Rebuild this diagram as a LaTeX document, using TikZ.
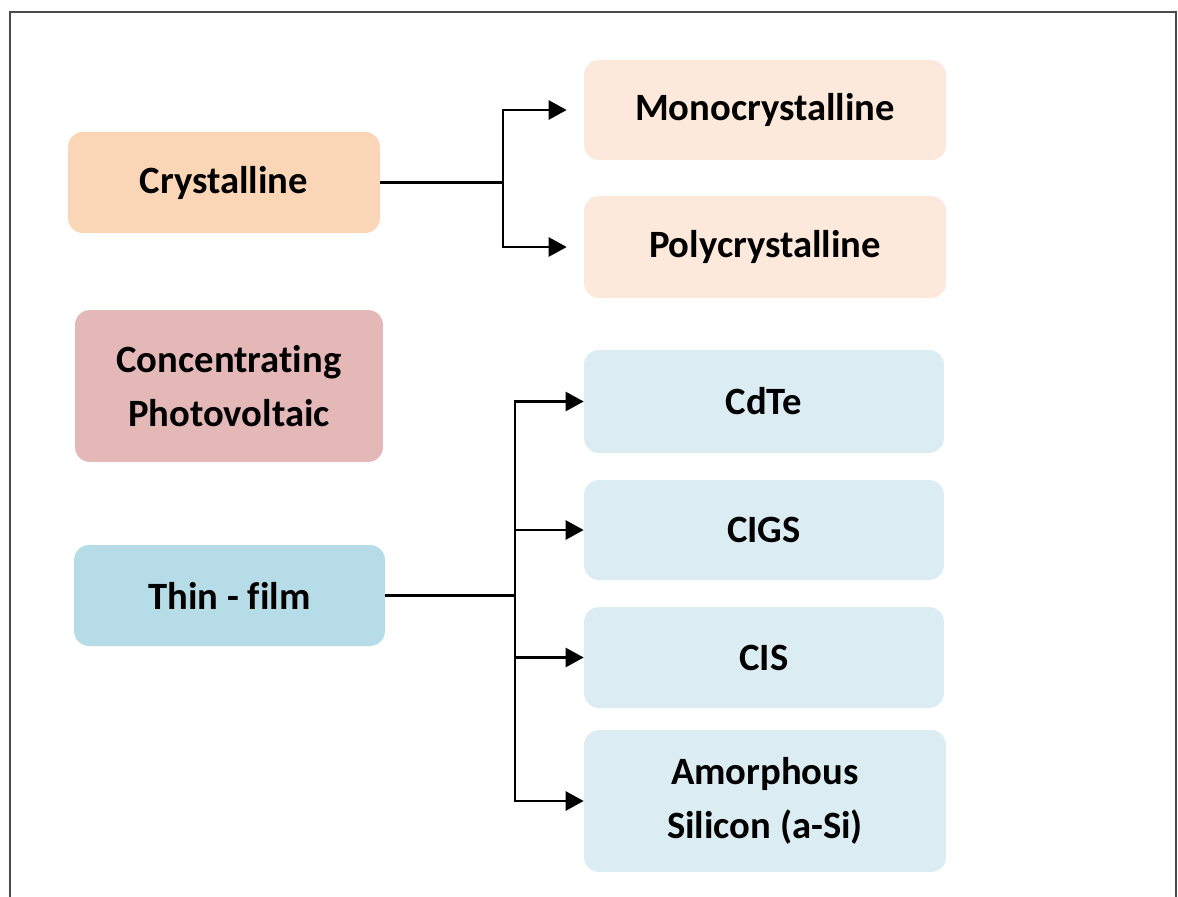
\documentclass[tikz,border=0pt]{standalone}
\usepackage{fontspec}
\setmainfont{Carlito}[Ligatures={NoCommon}]
\usetikzlibrary{arrows.meta}
\definecolor{peach}{HTML}{FAD6B6}
\definecolor{lightpeach}{HTML}{FDE9DB}
\definecolor{rosy}{HTML}{E5B8B8}
\definecolor{tealblue}{HTML}{B6DDE7}
\definecolor{paleblue}{HTML}{DBEDF3}
\definecolor{framegray}{HTML}{4A4A4A}
\begin{document}
\begin{tikzpicture}[x=0.02cm,y=-0.02cm]
    \tikzstyle{box}=[rounded corners=0.3cm, inner sep=0pt, align=center,
        font=\fontsize{22}{31}\selectfont\bfseries]
    \tikzstyle{link}=[line width=1.5pt, black]
    \tikzstyle{arr}=[link, -{Triangle[length=0.36cm,width=0.38cm]}]
    \useasboundingbox (0,0) rectangle (1178,897);
    \draw [framegray, line width=1.6pt] (10,897) -- (10,12) -- (1176,12) -- (1176,897);
    % left column
    \node [box, fill=peach, minimum width=6.24cm, minimum height=2.02cm] (crys) at (224,182.5) {Crystalline};
    \node [box, fill=rosy, minimum width=6.16cm, minimum height=3.04cm] (conc) at (229,386) {Concentrating\\Photovoltaic};
    \node [box, fill=tealblue, minimum width=6.22cm, minimum height=2.02cm] (thin) at (229.5,595.5) {Thin - film};
    % right column
    \node [box, fill=lightpeach, minimum width=7.24cm, minimum height=2.0cm] (mono) at (765,110) {Monocrystalline};
    \node [box, fill=lightpeach, minimum width=7.24cm, minimum height=2.04cm] (poly) at (765,247) {Polycrystalline};
    \node [box, fill=paleblue, minimum width=7.2cm, minimum height=2.06cm] (cdte) at (764,401.5) {CdTe};
    \node [box, fill=paleblue, minimum width=7.2cm, minimum height=2.0cm] (cigs) at (764,530) {CIGS};
    \node [box, fill=paleblue, minimum width=7.2cm, minimum height=2.02cm] (cis) at (764,657.5) {CIS};
    \node [box, fill=paleblue, minimum width=7.24cm, minimum height=2.84cm] (asi) at (765,801) {Amorphous\\Silicon (a-Si)};
    % connectors
    \coordinate (cj) at (503,182.5);
    \coordinate (tj) at (515,595.5);
    \draw [link] (crys.east) -- (cj);
    \draw [arr, shorten >=0.34cm] (cj) |- (mono.west);
    \draw [arr, shorten >=0.34cm] (cj) |- (poly.west);
    \draw [link] (thin.east) -- (tj);
    \draw [arr] (tj) |- (cdte.west);
    \draw [arr] (tj) |- (cigs.west);
    \draw [arr] (tj) |- (cis.west);
    \draw [arr] (tj) |- (asi.west);
\end{tikzpicture}
\end{document}
